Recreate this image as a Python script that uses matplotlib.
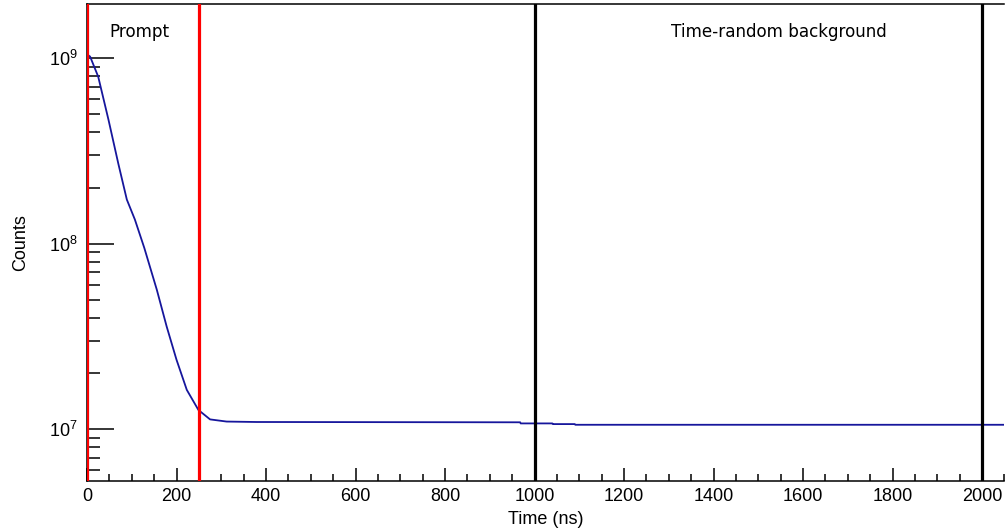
import matplotlib
matplotlib.use("Agg")
from matplotlib import pyplot as plt
from matplotlib.ticker import MultipleLocator, LogLocator, NullFormatter

# timing spectrum (ns, counts)
time_ns = [0, 7, 25, 48, 70, 89, 107, 128, 156, 178, 200, 223, 249,
           275, 312, 379, 968, 969, 1040, 1041, 1090, 1091, 2050]
counts = [1.05e9, 1.02e9, 7.96e8, 4.66e8, 2.70e8, 1.73e8, 1.35e8,
          9.5e7, 5.65e7, 3.58e7, 2.37e7, 1.63e7, 1.27e7,
          1.13e7, 1.10e7, 1.094e7, 1.09e7, 1.075e7, 1.075e7, 1.066e7,
          1.066e7, 1.057e7, 1.057e7]

prompt_window = [0, 250]
random_window = [1000, 2000]

plt.rcParams['font.family'] = ['Liberation Sans', 'DejaVu Sans']

fig = plt.figure(figsize=(10.05, 5.29), dpi=100)
ax = fig.add_axes([87 / 1005, 1 - 481 / 529, 917.4 / 1005, 477 / 529])

ax.plot(time_ns, counts, color='#16169c', lw=1.3, zorder=3)

for t in prompt_window:
    ax.axvline(t, color='red', lw=2.3, zorder=4)
for t in random_window:
    ax.axvline(t, color='black', lw=2.3, zorder=4)

ax.text(118, 1.39e9, "Prompt", family='DejaVu Sans', fontsize=12.1,
        ha='center', va='center')
ax.text(1545, 1.39e9, "Time-random background", family='DejaVu Sans',
        fontsize=12.1, ha='center', va='center')

ax.set_yscale('log')
ax.set_xlim(0, 2050)
ax.set_ylim(5.26e6, 1.96e9)

ax.xaxis.set_major_locator(MultipleLocator(200))
ax.xaxis.set_minor_locator(MultipleLocator(50))
ax.yaxis.set_major_locator(LogLocator(base=10))
ax.yaxis.set_minor_locator(LogLocator(base=10, subs=range(2, 10)))
ax.yaxis.set_minor_formatter(NullFormatter())

ax.tick_params(axis='x', which='major', direction='in', length=9.5,
               width=1.1, labelsize=13, pad=5)
ax.tick_params(axis='x', which='minor', direction='in', length=4.7, width=1.1)
ax.tick_params(axis='y', which='major', direction='in', length=19.5,
               width=1.1, labelsize=13, pad=7)
ax.tick_params(axis='y', which='minor', direction='in', length=9.5, width=1.1)

ax.spines['right'].set_visible(False)
for s in ['left', 'bottom', 'top']:
    ax.spines[s].set_linewidth(1.1)

ax.set_xlabel("Time (ns)", fontsize=13, labelpad=4)
ax.set_ylabel("Counts", fontsize=13, labelpad=14)

fig.savefig("out.png", dpi=100)
